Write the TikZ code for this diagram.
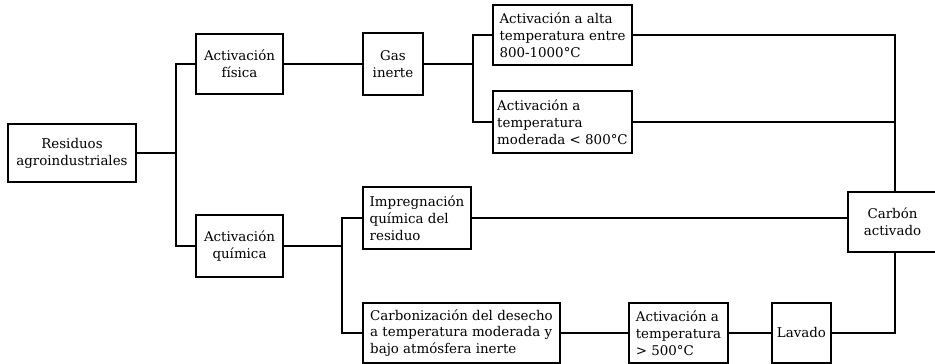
\documentclass[tikz,border=0pt]{standalone}
\usepackage{fontspec}
\setmainfont{DejaVu Serif}
\begin{document}
\begin{tikzpicture}[x=1pt,y=-1pt,
  box/.style={draw, line width=1.5pt, inner sep=0pt, font=\fontsize{13.4}{16.8}\selectfont},
  ln/.style={line width=1.5pt}]
\useasboundingbox (0,0) rectangle (935,364);
% helper: box with corners
\newcommand{\mybox}[7]{% name, x1, y1, x2, y2, align, text
  \node[box, minimum width={#4-#2}, minimum height={#5-#3}, align=#6] (#1) at ({(#2+#4)/2},{(#3+#5)/2}) {#7};}
\mybox{res}{8}{124}{136}{182}{center}{Residuos\\agroindustriales}
\mybox{fis}{196}{34}{283}{94}{center}{Activación\\física}
\mybox{qui}{196}{215}{283}{277}{center}{Activación\\química}
\mybox{gas}{363}{33}{423}{95}{center}{Gas\\inerte}
\mybox{alta}{493}{5}{632}{65}{left}{Activación a alta\\temperatura entre\\800-1000°C}
\mybox{mod}{493}{91}{632}{153}{left}{Activación a\\temperatura\\moderada < 800°C}
\mybox{imp}{363}{187}{471}{249}{left}{Impregnación\\química del\\residuo}
\mybox{carb}{363}{303}{560}{363}{left}{Carbonización del desecho\\a temperatura moderada y\\bajo atmósfera inerte}
\mybox{a500}{629}{303}{728}{363}{left}{Activación a\\temperatura\\> 500°C}
\mybox{lav}{772}{303}{831}{363}{center}{Lavado}
\mybox{cact}{848}{192}{937}{252}{center}{Carbón\\activado}
% connectors
\coordinate (b1) at (176,0);
\coordinate (b2) at (473,0);
\coordinate (b3) at (342,0);
\coordinate (b4) at (895,0);
\draw[ln] (res.east) -- (b1 |- res.east);
\draw[ln] (fis.west) -- (b1 |- fis.west) -- (b1 |- qui.west) -- (qui.west);
\draw[ln] (fis.east) -- (gas.west);
\draw[ln] (gas.east) -- (b2 |- gas.east);
\draw[ln] (alta.west) -- (b2 |- alta.west) -- (b2 |- mod.west) -- (mod.west);
\draw[ln] (qui.east) -- (b3 |- qui.east);
\draw[ln] (imp.west) -- (b3 |- imp.west) -- (b3 |- carb.west) -- (carb.west);
\draw[ln] (imp.east) -- (imp.east -| cact.west);
\draw[ln] (alta.east) -- (b4 |- alta.east) -- (b4 |- cact.north);
\draw[ln] (mod.east) -- (b4 |- mod.east);
\draw[ln] (carb.east) -- (a500.west);
\draw[ln] (a500.east) -- (lav.west);
\draw[ln] (lav.east) -- (b4 |- lav.east) -- (b4 |- cact.south);
\end{tikzpicture}
\end{document}
